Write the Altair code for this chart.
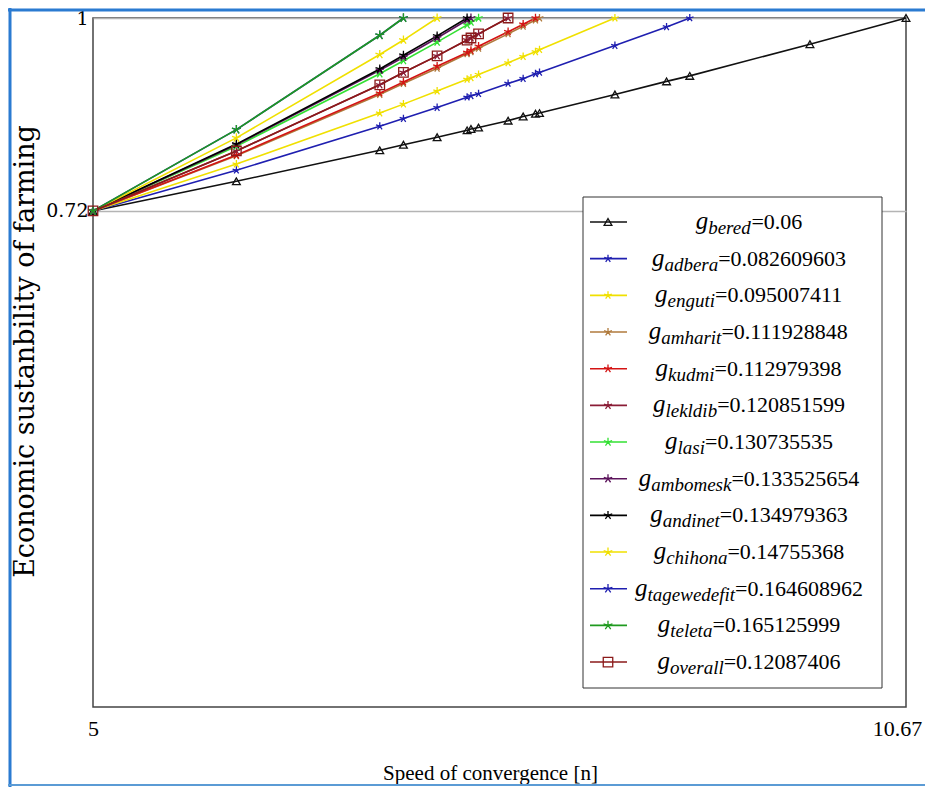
import altair as alt
import pandas as pd

# ---------------- data ----------------
SERIES = ["bered", "adbera", "enguti", "amharit", "kudmi", "lekldib", "lasi",
          "ambomesk", "andinet", "chihona", "tagewedefit", "teleta", "overall"]
G_LABELS = ["0.06", "0.082609603", "0.095007411", "0.111928848", "0.112979398",
            "0.120851599", "0.130735535", "0.133525654", "0.134979363",
            "0.14755368", "0.164608962", "0.165125999", "0.12087406"]
COLORS = ["#111111", "#1f1fb0", "#f0e000", "#b07a3c", "#d41414", "#8a1c36",
          "#33e033", "#5c145c", "#000000", "#f0e000", "#1f1fb0", "#1f9a1f", "#8b1a1a"]

# marker positions along the x axis (speed of convergence n)
N_GRID = [5, 6, 7, 7.165, 7.40, 7.609, 7.636, 7.689, 7.895, 8, 8.086, 8.114,
          8.64, 9, 9.162, 10, 10.67]

Y_BERED = [0.72, 0.763, 0.808, 0.816, 0.827, 0.837, 0.839, 0.841, 0.851, 0.857,
           0.861, 0.862, 0.889, 0.908, 0.916, 0.962, 1.0]
Y_ADBERA = [0.72, 0.779, 0.843, 0.854, 0.870, 0.885, 0.887, 0.890, 0.905, 0.912,
            0.919, 0.921, 0.960, 0.987, 1.0]
Y_ENGUTI = [0.72, 0.788, 0.862, 0.875, 0.894, 0.911, 0.913, 0.918, 0.935, 0.944,
            0.951, 0.954, 1.0]
Y_AMHARIT = [0.72, 0.800, 0.889, 0.905, 0.927, 0.948, 0.951, 0.956, 0.977, 0.988,
             0.997, 1.0]
Y_KUDMI = [0.72, 0.801, 0.891, 0.907, 0.930, 0.950, 0.953, 0.959, 0.980, 0.991, 1.0]
Y_LEKLDIB = [0.72, 0.807, 0.903, 0.921, 0.945, 0.968, 0.971, 0.977, 1.0]
Y_LASI = [0.72, 0.814, 0.919, 0.938, 0.965, 0.990, 0.994, 1.0]
Y_AMBOMESK = [0.72, 0.816, 0.924, 0.943, 0.971, 0.997, 1.0]
Y_ANDINET = [0.72, 0.817, 0.926, 0.946, 0.974, 1.0]
Y_CHIHONA = [0.72, 0.826, 0.947, 0.968, 1.0]
Y_TAGEWEDEFIT = [0.72, 0.838, 0.975, 1.0]
Y_TELETA = [0.72, 0.838, 0.975, 1.0]
Y_OVERALL = [0.72, 0.807, 0.903, 0.921, 0.945, 0.968, 0.971, 0.977, 1.0]

Y_LISTS = [Y_BERED, Y_ADBERA, Y_ENGUTI, Y_AMHARIT, Y_KUDMI, Y_LEKLDIB, Y_LASI,
           Y_AMBOMESK, Y_ANDINET, Y_CHIHONA, Y_TAGEWEDEFIT, Y_TELETA, Y_OVERALL]

X_TICKS = [5, 10.67]
X_TICK_LABELS = ["5", "10.67"]
Y_TICKS = [0.72, 1]
Y_TICK_LABELS = ["0.72", "1"]

# ---------------- styles ----------------
STAR = ("M0,0L0,-1M0,0L0.951,-0.309M0,0L0.588,0.809M0,0L-0.588,0.809"
        "M0,0L-0.951,-0.309")
SHAPES = ["triangle-up"] + [STAR] * 11 + ["square"]
SIZES = [60] + [90] * 11 + [95]

W, H = 813, 689
PAD = {"left": 85, "top": 10, "right": 19, "bottom": 81}

rows = []
for s, ys in zip(SERIES, Y_LISTS):
    for n, y in zip(N_GRID, ys):
        rows.append({"series": s, "n": n, "v": y})
df = pd.DataFrame(rows)

color_scale = alt.Scale(domain=SERIES, range=COLORS)
shape_scale = alt.Scale(domain=SERIES, range=SHAPES)
size_scale = alt.Scale(domain=SERIES, range=SIZES)


def label_expr(values, labels):
    expr = "''"
    for v, l in reversed(list(zip(values, labels))):
        expr = f"abs(datum.value - {v}) < 0.001 ? '{l}' : ({expr})"
    return expr


x_enc = alt.X(
    "n:Q",
    scale=alt.Scale(domain=[5, 10.67], nice=False, zero=False),
    axis=alt.Axis(
        values=X_TICKS, labelExpr=label_expr(X_TICKS, X_TICK_LABELS),
        grid=False, ticks=False, tickSize=0, domain=False,
        labelFont="Liberation Serif", labelFontSize=22, labelColor="black",
        labelPadding=11, labelFlush=False, labelOverlap=False,
        labelOffset={"condition": {"test": "datum.value > 8", "value": -9}, "value": 0},
        title="Speed of convergence [n]", titleFont="Liberation Serif",
        titleFontSize=21, titleFontWeight="normal", titleColor="black",
        titleX=397, titleY=66, titleAlign="center", titleBaseline="middle",
    ),
)
y_enc = alt.Y(
    "v:Q",
    scale=alt.Scale(domain=[0, 1], nice=False, zero=True),
    axis=alt.Axis(
        values=Y_TICKS, labelExpr=label_expr(Y_TICKS, Y_TICK_LABELS),
        grid=True, gridColor="#b4b4b4", gridWidth=1.5,
        ticks=False, tickSize=0, domain=False,
        labelFont="DejaVu Serif", labelFontSize=19, labelColor="black",
        labelPadding=5, labelFlush=False, labelOverlap=False,
        title="Economic sustanbility of farming", titleFont="DejaVu Serif",
        titleFontSize=27, titleFontWeight="normal", titleColor="black",
        titleAngle=270, titleX=-68, titleY=333, titleAlign="center",
        titleBaseline="middle",
    ),
)

base = alt.Chart(df)
lines = base.mark_line(strokeWidth=1.6).encode(
    x=x_enc, y=y_enc,
    color=alt.Color("series:N", scale=color_scale, legend=None),
)
points = base.mark_point(filled=False, opacity=1, strokeWidth=1.3).encode(
    x="n:Q", y="v:Q",
    color=alt.Color("series:N", scale=color_scale, legend=None),
    shape=alt.Shape("series:N", scale=shape_scale, legend=None),
    size=alt.Size("series:N", scale=size_scale, legend=None),
)

# ---------------- custom legend (with subscripts) ----------------
LEG_X0, LEG_X1, LEG_Y0, LEG_Y1 = 490, 789, 179, 670
ROW0, ROW_H = 204, 36.67
LINE_X0, LINE_X1, MARK_X = 497, 534, 515
TEXT_CX = 656
G_FS, SUB_FS, MAIN_FS = 25, 19, 22
IT_W = {"a": .5, "b": .5, "c": .444, "d": .5, "e": .444, "f": .278, "g": .5,
        "h": .5, "i": .278, "k": .444, "l": .278, "m": .722, "n": .5, "o": .5,
        "r": .389, "s": .389, "t": .278, "u": .5, "v": .444, "w": .667}
REG_W = {"=": .564, ".": .25}

leg_rows = []
for i, (s, g) in enumerate(zip(SERIES, G_LABELS)):
    ry = ROW0 + i * ROW_H
    rest = "=" + g
    gw = 0.5 * G_FS
    sw = sum(IT_W.get(c, .5) for c in s) * SUB_FS
    rw = sum(REG_W.get(c, .5) for c in rest) * MAIN_FS
    x0 = TEXT_CX - (gw + sw + rw) / 2
    leg_rows.append({"series": s, "ry": ry, "gy": ry + 7, "sy": ry + 12,
                     "gx": x0, "sx": x0 + gw, "rx": x0 + gw + sw,
                     "gt": "g", "st": s, "rt": rest})
leg = pd.DataFrame(leg_rows)

one = pd.DataFrame({"k": [0]})
leg_box = alt.Chart(one).mark_rect(fill="white", stroke="#333333", strokeWidth=1).encode(
    x=alt.value(LEG_X0), x2=alt.value(LEG_X1), y=alt.value(LEG_Y0), y2=alt.value(LEG_Y1)
)
leg_lines = alt.Chart(leg).mark_rule(strokeWidth=1.6).encode(
    x=alt.value(LINE_X0), x2=alt.value(LINE_X1),
    y=alt.Y("ry:Q", scale=None, axis=None),
    color=alt.Color("series:N", scale=color_scale, legend=None),
)
leg_marks = alt.Chart(leg).mark_point(filled=False, opacity=1, strokeWidth=1.3).encode(
    x=alt.value(MARK_X),
    y=alt.Y("ry:Q", scale=None, axis=None),
    color=alt.Color("series:N", scale=color_scale, legend=None),
    shape=alt.Shape("series:N", scale=shape_scale, legend=None),
    size=alt.Size("series:N", scale=size_scale, legend=None),
)
leg_g = alt.Chart(leg).mark_text(align="left", baseline="alphabetic",
                                 font="Liberation Serif", fontStyle="italic",
                                 fontSize=G_FS, color="black").encode(
    x=alt.X("gx:Q", scale=None, axis=None), y=alt.Y("gy:Q", scale=None, axis=None),
    text="gt:N")
leg_s = alt.Chart(leg).mark_text(align="left", baseline="alphabetic",
                                 font="Liberation Serif", fontStyle="italic",
                                 fontSize=SUB_FS, color="black").encode(
    x=alt.X("sx:Q", scale=None, axis=None), y=alt.Y("sy:Q", scale=None, axis=None),
    text="st:N")
leg_r = alt.Chart(leg).mark_text(align="left", baseline="alphabetic",
                                 font="Liberation Serif",
                                 fontSize=MAIN_FS, color="black").encode(
    x=alt.X("rx:Q", scale=None, axis=None), y=alt.Y("gy:Q", scale=None, axis=None),
    text="rt:N")

# ---------------- blue outer frame ----------------
BLUE = "#2b7bd1"
fr_left = alt.Chart(one).mark_rule(color=BLUE, strokeWidth=3).encode(
    x=alt.value(-83), y=alt.value(-10), y2=alt.value(H + PAD["bottom"] - 1))
fr_top = alt.Chart(one).mark_rule(color=BLUE, strokeWidth=3).encode(
    x=alt.value(-85), x2=alt.value(W + PAD["right"]), y=alt.value(-8))
fr_bot = alt.Chart(one).mark_rule(color="#5b9bd5", strokeWidth=2).encode(
    x=alt.value(-85), x2=alt.value(W + PAD["right"]), y=alt.value(H + PAD["bottom"] - 3))

chart = alt.layer(
    lines, points, leg_box, leg_lines, leg_marks, leg_g, leg_s, leg_r,
    fr_left, fr_top, fr_bot,
).properties(
    width=W, height=H, padding=PAD,
    autosize=alt.AutoSizeParams(type="none"),
).configure_view(stroke="#444444", strokeWidth=1.5)

chart.save("out.html", embed_options={"renderer": "svg", "actions": False})
